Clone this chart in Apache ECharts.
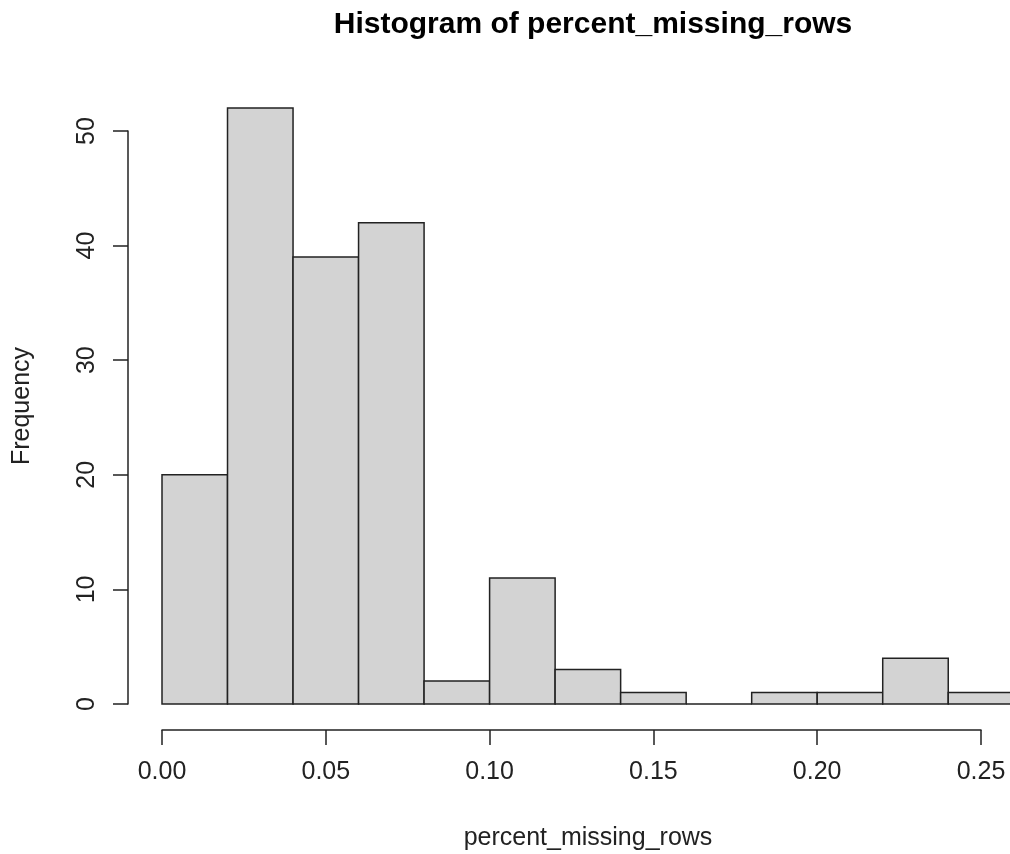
<!DOCTYPE html>
<html>
<head>
<meta charset="utf-8">
<script src="https://cdn.jsdelivr.net/npm/echarts@6/dist/echarts.min.js"></script>
<style>
  html, body { margin: 0; padding: 0; background: #ffffff; }
  #chart { width: 1010px; height: 854px; }
</style>
</head>
<body>
<div id="chart"></div>
<script>
// Histogram bins: break points and the count in each bin
const breaks = [0.00, 0.02, 0.04, 0.06, 0.08, 0.10, 0.12, 0.14, 0.16, 0.18, 0.20, 0.22, 0.24, 0.26];
const counts = [20, 52, 39, 42, 2, 11, 3, 1, 0, 1, 1, 4, 1];
const xTicks = [0.00, 0.05, 0.10, 0.15, 0.20, 0.25];
const yTicks = [0, 10, 20, 30, 40, 50];

const titleText = 'Histogram of percent_missing_rows';
const xLabel = 'percent_missing_rows';
const yLabel = 'Frequency';

const FONT = '"Liberation Sans", Arial, sans-serif';
const INK = '#222';
const LINE_W = 1.5;

const bins = counts.map((c, i) => [breaks[i], breaks[i + 1], c]);

const chart = echarts.init(document.getElementById('chart'), null, { renderer: 'canvas' });

chart.setOption({
  backgroundColor: '#ffffff',
  animation: false,
  title: {
    text: titleText,
    left: 588,
    top: 5,
    textAlign: 'center',
    textStyle: { fontFamily: FONT, fontSize: 30, fontWeight: 'bold', color: '#000' }
  },
  grid: { left: 162, right: 29, top: 131, bottom: 150, containLabel: false },
  xAxis: {
    type: 'value',
    min: xTicks[0],
    max: xTicks[xTicks.length - 1],
    interval: 0.05,
    offset: 26,
    axisLine: { show: true, onZero: false, lineStyle: { color: INK, width: LINE_W } },
    axisTick: { show: true, inside: false, length: 15, lineStyle: { color: INK, width: LINE_W } },
    axisLabel: {
      margin: 30,
      fontFamily: FONT, fontSize: 25, color: INK,
      formatter: v => v.toFixed(2)
    },
    splitLine: { show: false }
  },
  yAxis: {
    type: 'value',
    min: yTicks[0],
    max: yTicks[yTicks.length - 1],
    interval: 10,
    offset: 34,
    axisLine: { show: true, onZero: false, lineStyle: { color: INK, width: LINE_W } },
    axisTick: { show: true, inside: false, length: 15, lineStyle: { color: INK, width: LINE_W } },
    axisLabel: {
      rotate: 90,
      margin: 28,
      fontFamily: FONT, fontSize: 25, color: INK
    },
    splitLine: { show: false }
  },
  graphic: [
    {
      type: 'text',
      x: 588, y: 838,
      style: {
        text: xLabel, fontFamily: FONT, fontSize: 25, fill: INK,
        align: 'center', verticalAlign: 'middle'
      }
    },
    {
      type: 'text',
      x: 22, y: 406,
      rotation: Math.PI / 2,
      style: {
        text: yLabel, fontFamily: FONT, fontSize: 25, fill: INK,
        align: 'center', verticalAlign: 'middle'
      }
    }
  ],
  series: [{
    type: 'custom',
    clip: false,
    data: bins,
    encode: { x: [0, 1], y: 2 },
    renderItem: function (params, api) {
      const p0 = api.coord([api.value(0), api.value(2)]);
      const p1 = api.coord([api.value(1), 0]);
      return {
        type: 'rect',
        shape: { x: p0[0], y: p0[1], width: p1[0] - p0[0], height: p1[1] - p0[1] },
        style: { fill: '#d3d3d3', stroke: INK, lineWidth: LINE_W }
      };
    }
  }]
});
</script>
</body>
</html>
